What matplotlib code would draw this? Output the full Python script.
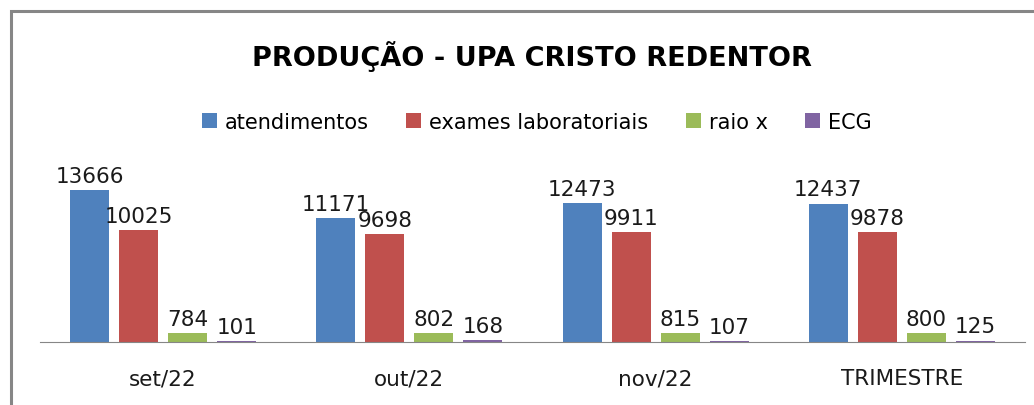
import numpy as np
import matplotlib.pyplot as plt
from matplotlib.patches import Rectangle

categories = ["set/22", "out/22", "nov/22", "TRIMESTRE"]
series_names = ["atendimentos", "exames laboratoriais", "raio x", "ECG"]
atendimentos = [13666, 11171, 12473, 12437]
exames = [10025, 9698, 9911, 9878]
raio_x = [784, 802, 815, 800]
ecg = [101, 168, 107, 125]

colors = ["#4F81BD", "#C0504D", "#9BBB59", "#8064A2"]

plt.rcParams['font.family'] = ['DejaVu Sans']

W, H = 1034, 406
fig = plt.figure(figsize=(W / 100, H / 100), dpi=100)

# outer chart border (cropped on right/bottom)
fig.patches.append(Rectangle((11 / W, -0.1), 2.0, 1.1 - 12 / H,
                             transform=fig.transFigure, fill=False,
                             edgecolor="#868686", linewidth=2.2))

ax = fig.add_axes([40 / W, (H - 343) / H, (1025 - 40) / W, (343 - 165) / H])
ax.set_xlim(-0.5, 3.5)
ax.set_ylim(0, 16000)

x = np.arange(len(categories))
width = 39 / 246
step = 49 / 246
all_series = [atendimentos, exames, raio_x, ecg]
for i, (vals, name, c) in enumerate(zip(all_series, series_names, colors)):
    pos = x + (i - 1.5) * step
    ax.bar(pos, vals, width=width, color=c, label=name)
    for p, v in zip(pos, vals):
        ax.annotate(str(v), (p, v), xytext=(0, 3), textcoords="offset points",
                    ha="center", va="bottom", fontsize=15.5, color="#1a1a1a")

for s in ["left", "right", "top"]:
    ax.spines[s].set_visible(False)
ax.spines["bottom"].set_color("#868686")
ax.set_yticks([])
ax.set_xticks(x)
ax.set_xticklabels(categories, fontsize=15.5, color="#1a1a1a")
ax.tick_params(axis="x", length=0, pad=19)

fig.text(532 / W, 1 - 57 / H, "PRODUÇÃO - UPA CRISTO REDENTOR", ha="center",
         va="center", fontsize=19.5, fontweight="bold", color="black")

fig.legend(loc="center", bbox_to_anchor=(537 / W, 1 - 123 / H), ncol=4,
           frameon=False, fontsize=15, handlelength=0.7, handleheight=0.7,
           handletextpad=0.4, columnspacing=1.8)

fig.savefig("out.png", dpi=100)
